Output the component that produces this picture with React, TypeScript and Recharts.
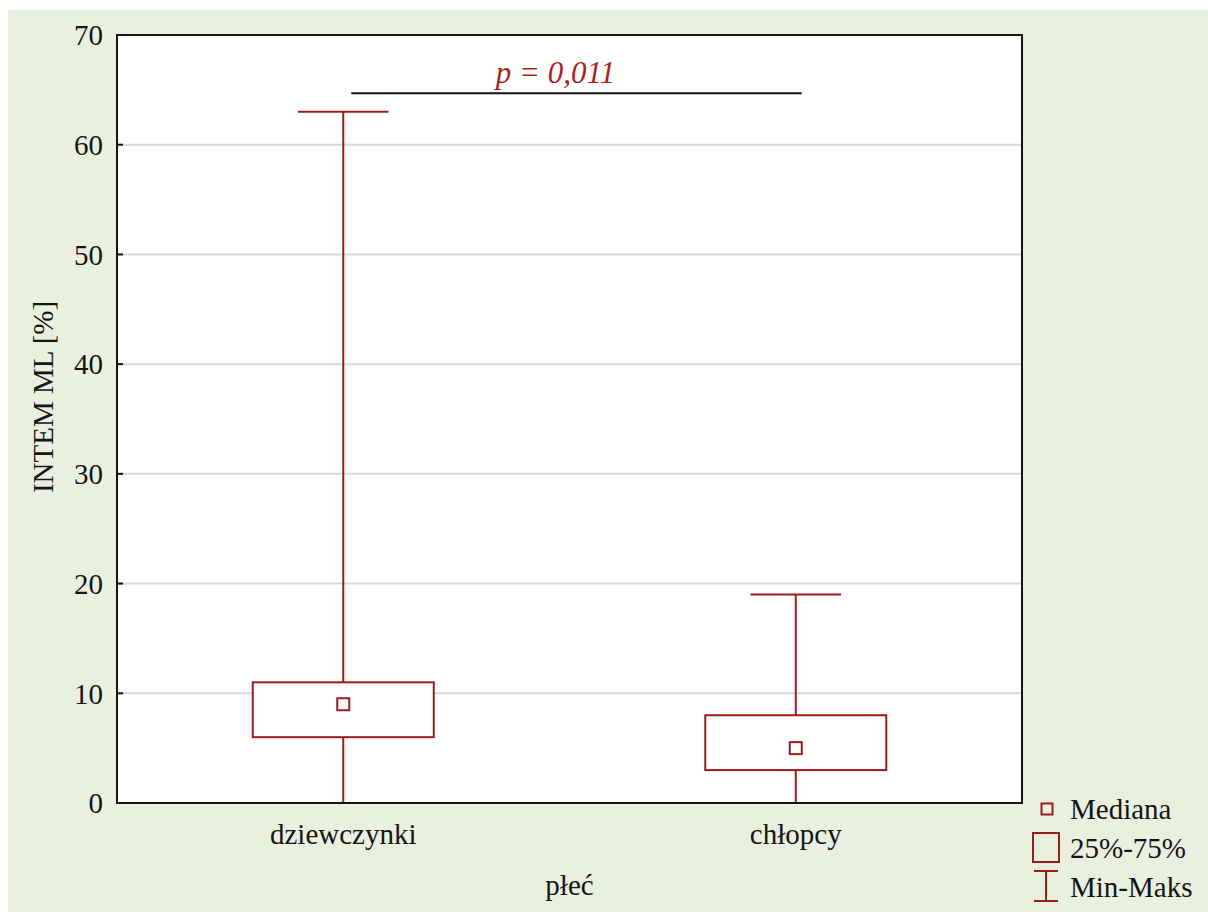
import {
  Bar,
  CartesianGrid,
  ComposedChart,
  Label,
  Legend,
  ReferenceArea,
  ReferenceLine,
  XAxis,
  YAxis
} from "recharts";

const categories = ["dziewczynki", "chłopcy"];
const minValues = [0, 0];
const q1Values = [6, 3];
const medianValues = [9, 5];
const q3Values = [11, 8];
const maxValues = [63, 19];
const yTicks = [0, 10, 20, 30, 40, 50, 60, 70];
const legendLabels = ["Mediana", "25%-75%", "Min-Maks"];
const yTitle = "INTEM ML [%]";
const xTitle = "płeć";
const pText = "p = 0,011";
// significance bar between the two groups
const sigLevel = 64.7;

const RED = "#9c1c1c";
const INK = "#151515";
const FONT = "'Liberation Serif', 'Times New Roman', serif";
const FS = 29;

const data = categories.map((name, i) => ({
  name,
  min: minValues[i],
  q1: q1Values[i],
  median: medianValues[i],
  q3: q3Values[i],
  max: maxValues[i],
  range: [minValues[i], maxValues[i]]
}));

function BoxShape(props: any) {
  const { x, y, width, height, payload } = props;
  const top = Math.min(y, y + height);
  const bottom = Math.max(y, y + height);
  const span = payload.max - payload.min;
  const py = (v: number) => top + ((bottom - top) * (payload.max - v)) / span;
  const cx = x + width / 2;
  const cap = width / 4;
  const m = 6;
  return (
    <g stroke={RED} strokeWidth={2} fill="#fff">
      <line x1={cx} x2={cx} y1={py(payload.max)} y2={py(payload.min)} />
      <line x1={cx - cap} x2={cx + cap} y1={py(payload.max)} y2={py(payload.max)} />
      <line x1={cx - cap} x2={cx + cap} y1={py(payload.min)} y2={py(payload.min)} />
      <rect x={x} y={py(payload.q3)} width={width} height={py(payload.q1) - py(payload.q3)} />
      <rect x={cx - m} y={py(payload.median) - m} width={m * 2} height={m * 2} />
    </g>
  );
}

// the bar in the original sits a little right of the group centres
function SigLine(props: any) {
  const { x1, x2, y1, y2 } = props;
  return <line x1={x1 + 8} x2={x2 + 6} y1={y1} y2={y2} stroke={INK} strokeWidth={2} />;
}

function renderLegend() {
  const text = { fontFamily: FONT, fontSize: FS, fill: INK };
  return (
    <svg width={180} height={112} style={{ overflow: "visible" }}>
      <g stroke={RED} strokeWidth={2} fill="none">
        <rect x={13.5} y={5.5} width={11} height={11} />
        <rect x={5} y={35} width={26} height={29} />
        <line x1={6} x2={30} y1={73} y2={73} />
        <line x1={6} x2={30} y1={103} y2={103} />
        <line x1={18} x2={18} y1={73} y2={103} />
      </g>
      <text x={42} y={21} {...text}>{legendLabels[0]}</text>
      <text x={42} y={60} {...text}>{legendLabels[1]}</text>
      <text x={42} y={99} {...text}>{legendLabels[2]}</text>
    </svg>
  );
}

export default function App() {
  const tick = { fontFamily: FONT, fontSize: FS, fill: INK };
  return (
    <div
      style={{
        position: "fixed",
        left: 8,
        top: 10,
        width: 1200,
        height: 902,
        background: "#e9f0dd"
      }}
    >
      <ComposedChart
        width={1200}
        height={902}
        data={data}
        barCategoryGap="30%"
        margin={{ top: 25, right: 186, bottom: 0, left: 0 }}
      >
        <CartesianGrid vertical={false} stroke="#d9d9d9" strokeWidth={2} fill="#fff" fillOpacity={1} />
        <XAxis
          dataKey="name"
          height={109}
          tickLine={false}
          tickSize={0}
          tickMargin={20}
          tick={tick}
          axisLine={{ stroke: INK, strokeWidth: 2 }}
        >
          <Label
            content={({ viewBox }: any) => (
              <text
                x={viewBox.x + viewBox.width / 2}
                y={viewBox.y + 92}
                textAnchor="middle"
                fontFamily={FONT}
                fontSize={FS}
                fill={INK}
              >
                {xTitle}
              </text>
            )}
          />
        </XAxis>
        <YAxis
          domain={[0, 70]}
          ticks={yTicks}
          interval={0}
          width={109}
          tickSize={-6}
          tickMargin={20}
          tick={tick}
          axisLine={{ stroke: INK, strokeWidth: 2 }}
          tickLine={{ stroke: INK, strokeWidth: 2 }}
        >
          <Label
            content={({ viewBox }: any) => {
              const lx = 45;
              const ly = viewBox.y + viewBox.height / 2 - 22;
              return (
                <text
                  x={lx}
                  y={ly}
                  transform={`rotate(-90, ${lx}, ${ly})`}
                  textAnchor="middle"
                  fontFamily={FONT}
                  fontSize={FS}
                  fill={INK}
                >
                  {yTitle}
                </text>
              );
            }}
          />
        </YAxis>
        <Bar dataKey="range" shape={<BoxShape />} isAnimationActive={false} />
        <ReferenceArea y1={0} y2={70} fill="none" stroke={INK} strokeWidth={2} />
        <ReferenceLine
          segment={[
            { x: categories[0], y: sigLevel },
            { x: categories[1], y: sigLevel }
          ]}
          shape={SigLine}
          stroke={INK}
          strokeWidth={2}
          label={({ viewBox }: any) => (
            <text
              x={viewBox.x + viewBox.width / 2 - 14}
              y={viewBox.y - 10}
              textAnchor="middle"
              fontFamily={FONT}
              fontStyle="italic"
              fontSize={31}
              fill="#b01e1e"
            >
              {pText}
            </text>
          )}
        />
        <Legend
          layout="vertical"
          align="center"
          verticalAlign="middle"
          wrapperStyle={{ left: 1020, top: 788, width: 180, height: 112 }}
          content={renderLegend}
        />
      </ComposedChart>
    </div>
  );
}
